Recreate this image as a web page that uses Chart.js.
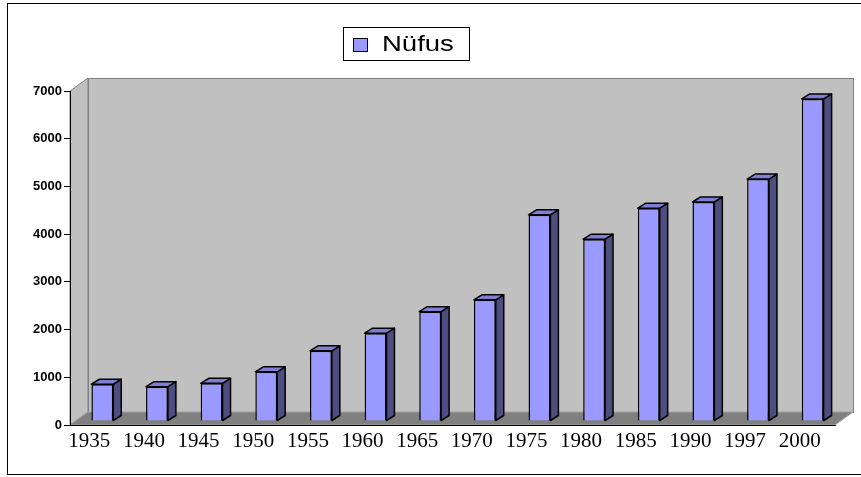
<!DOCTYPE html>
<html>
<head>
<meta charset="utf-8">
<script src="https://cdn.jsdelivr.net/npm/chart.js@4"></script>
<style>
  body { margin: 0; background: #fff; }
</style>
</head>
<body>
<canvas id="chart" width="861" height="477"></canvas>
<script>
// ---------- DATOS ----------
const years = ['1935', '1940', '1945', '1950', '1955', '1960', '1965', '1970', '1975', '1980', '1985', '1990', '1997', '2000'];
const nufus = [770, 720, 790, 1030, 1470, 1840, 2290, 2540, 4320, 3810, 4460, 4590, 5070, 6750];
const seriesName = 'Nüfus';
const yTicks = [0, 1000, 2000, 3000, 4000, 5000, 6000, 7000];

// profundidad del "3D"
const WALL_DX = 18, WALL_DY = -13;   // pared del fondo
const BAR_DX = 5, BAR_DY = -4;       // plano de las barras
const SIDE_DX = 8, SIDE_DY = -5;     // grosor de cada barra

// ---------- PAREDES Y SUELO ----------
const walls = {
    id: 'walls',
    beforeDraw(chart) {
        const c = chart.ctx;
        const a = chart.chartArea;
        c.save();
        // marco exterior
        c.strokeStyle = '#000';
        c.lineWidth = 1;
        c.strokeRect(7.5, 3.5, 870, 471);

        // pared izquierda
        c.fillStyle = '#c0c0c0';
        c.strokeStyle = '#808080';
        c.beginPath();
        c.moveTo(a.left, a.top);
        c.lineTo(a.left + WALL_DX, a.top + WALL_DY);
        c.lineTo(a.left + WALL_DX, a.bottom + WALL_DY);
        c.lineTo(a.left, a.bottom);
        c.closePath();
        c.fill();
        c.stroke();

        // pared del fondo
        c.fillRect(a.left + WALL_DX, a.top + WALL_DY, a.right - a.left, a.bottom - a.top);
        c.strokeRect(a.left + WALL_DX + 0.5, a.top + WALL_DY + 0.5, a.right - a.left, a.bottom - a.top);

        // suelo
        c.fillStyle = '#808080';
        c.strokeStyle = '#a0a0a0';
        c.beginPath();
        c.moveTo(a.left, a.bottom);
        c.lineTo(a.left + WALL_DX, a.bottom + WALL_DY);
        c.lineTo(a.right + WALL_DX, a.bottom + WALL_DY);
        c.lineTo(a.right, a.bottom);
        c.closePath();
        c.fill();
        c.stroke();
        c.restore();
    }
};

// ---------- BARRAS 3D ----------
const bars3d = {
    id: 'bars3d',
    beforeDatasetsDraw(chart) {
        chart.ctx.save();
        chart.ctx.translate(BAR_DX, BAR_DY);
    },
    afterDatasetsDraw(chart) {
        const c = chart.ctx;
        const meta = chart.getDatasetMeta(0);
        c.lineWidth = 1.5;
        c.strokeStyle = '#000';
        c.lineJoin = 'round';
        meta.data.forEach(bar => {
            const p = bar.getProps(['x', 'y', 'base', 'width'], true);
            const l = p.x - p.width / 2, r = p.x + p.width / 2;
            // lado derecho
            c.fillStyle = '#4d4d80';
            c.beginPath();
            c.moveTo(r, p.y);
            c.lineTo(r + SIDE_DX, p.y + SIDE_DY);
            c.lineTo(r + SIDE_DX, p.base + SIDE_DY);
            c.lineTo(r, p.base);
            c.closePath();
            c.fill();
            c.stroke();
            // tapa
            c.fillStyle = '#7f7fd6';
            c.beginPath();
            c.moveTo(l, p.y);
            c.lineTo(l + SIDE_DX, p.y + SIDE_DY);
            c.lineTo(r + SIDE_DX, p.y + SIDE_DY);
            c.lineTo(r, p.y);
            c.closePath();
            c.fill();
            c.stroke();
        });
        c.restore();
    }
};

// ---------- LEYENDA CON MARCO ----------
const boxLegend = {
    id: 'boxLegend',
    afterDraw(chart) {
        const c = chart.ctx;
        const ds = chart.data.datasets[0];
        c.save();
        c.strokeStyle = '#000';
        c.lineWidth = 1;
        c.strokeRect(343.5, 27.5, 126, 33);
        c.fillStyle = ds.backgroundColor;
        c.fillRect(353, 38, 15, 14);
        c.strokeRect(353.5, 38.5, 14, 13);
        c.fillStyle = '#000';
        c.font = '22px "Liberation Sans", Arial, sans-serif';
        c.textBaseline = 'middle';
        c.translate(382, 45);
        c.scale(1.25, 1);
        c.fillText(ds.label, 0, 0);
        c.restore();
    }
};

// ---------- GRÁFICA ----------
const ctx = document.getElementById('chart');
const chart = new Chart(ctx, {
    type: 'bar',
    data: {
        labels: years,
        datasets: [{
            label: seriesName,
            data: nufus,
            backgroundColor: '#9999ff',
            borderColor: '#000',
            borderWidth: 1.5,
            barPercentage: 0.4,
            categoryPercentage: 1,
            clip: false
        }]
    },
    options: {
        responsive: false,
        animation: false,
        layout: { padding: { left: 0, right: 26, top: 91, bottom: 0 } },
        plugins: {
            legend: { display: false },
            tooltip: { enabled: false }
        },
        scales: {
            x: {
                grid: { display: false },
                border: { color: '#000' },
                ticks: {
                    color: '#000',
                    padding: -4,
                    labelOffset: -8,
                    maxRotation: 0,
                    font: { family: '"Liberation Serif", "Times New Roman", serif', size: 21 }
                },
                afterFit(s) { s.height = 52; }
            },
            y: {
                min: 0,
                max: 7000,
                afterBuildTicks(s) { s.ticks = yTicks.map(v => ({ value: v })); },
                grid: { drawOnChartArea: false, drawTicks: true, tickLength: 6, color: '#000' },
                border: { color: '#000' },
                ticks: {
                    color: '#000',
                    padding: 2,
                    callback: v => String(v),
                    font: { family: '"Liberation Sans", Arial, sans-serif', size: 13, weight: 'bold' }
                },
                afterFit(s) { s.width = 70; }
            }
        }
    },
    plugins: [walls, bars3d, boxLegend]
});
</script>
</body>
</html>
